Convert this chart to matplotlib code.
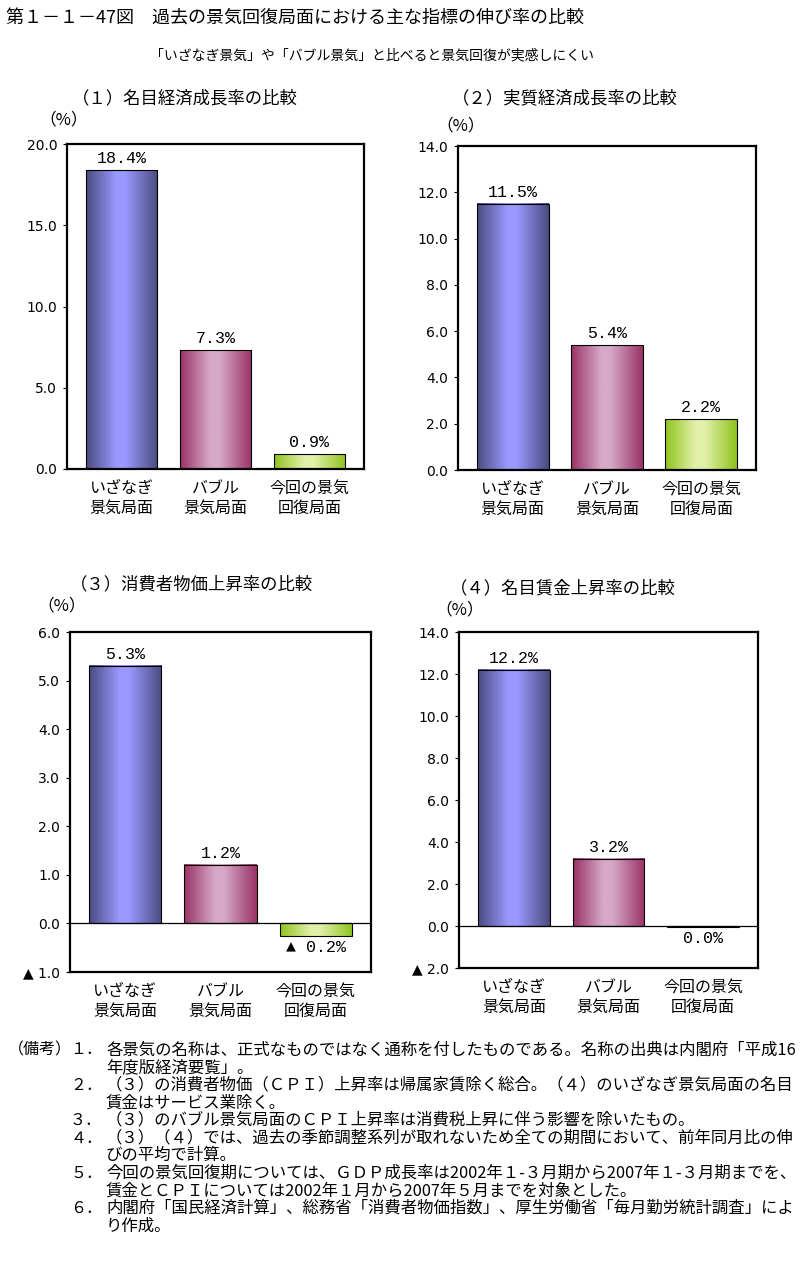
import numpy as np
import matplotlib
matplotlib.use('Agg')
import matplotlib.pyplot as plt
from matplotlib.colors import LinearSegmentedColormap

plt.rcParams['font.family'] = ['Noto Sans CJK JP', 'DejaVu Sans']

W, H = 806, 1272

# データ
categories = ['いざなぎ\n景気局面', 'バブル\n景気局面', '今回の景気\n回復局面']
nominal_gdp = [18.4, 7.3, 0.9]
real_gdp = [11.5, 5.4, 2.2]
cpi = [5.3, 1.2, -0.25]
wage = [12.2, 3.2, -0.03]

panel_titles = ['（１）名目経済成長率の比較', '（２）実質経済成長率の比較',
                '（３）消費者物価上昇率の比較', '（４）名目賃金上昇率の比較']
ylims = [(0, 20), (0, 14), (-1, 6), (-2, 14)]
ysteps = [5, 2, 1, 2]

title = '第１－１－47図　過去の景気回復局面における主な指標の伸び率の比較'
subtitle = '「いざなぎ景気」や「バブル景気」と比べると景気回復が実感しにくい'
notes = [
    ('（備考）', '１．', '各景気の名称は、正式なものではなく通称を付したものである。名称の出典は内閣府「平成16'),
    ('', '', '年度版経済要覧」。'),
    ('', '２．', '（３）の消費者物価（ＣＰＩ）上昇率は帰属家賃除く総合。（４）のいざなぎ景気局面の名目'),
    ('', '', '賃金はサービス業除く。'),
    ('', '３．', '（３）のバブル景気局面のＣＰＩ上昇率は消費税上昇に伴う影響を除いたもの。'),
    ('', '４．', '（３）（４）では、過去の季節調整系列が取れないため全ての期間において、前年同月比の伸'),
    ('', '', 'びの平均で計算。'),
    ('', '５．', '今回の景気回復期については、ＧＤＰ成長率は2002年１-３月期から2007年１-３月期までを、'),
    ('', '', '賃金とＣＰＩについては2002年１月から2007年５月までを対象とした。'),
    ('', '６．', '内閣府「国民経済計算」、総務省「消費者物価指数」、厚生労働省「毎月勤労統計調査」によ'),
    ('', '', 'り作成。'),
]

# 棒の色（端：暗い、中央：明るい）
bar_colors = [('#4b4b80', '#9999ff'), ('#993366', '#d6a9c6'), ('#8fc31f', '#e2f0a8')]


def px(x, y):
    return x / W, 1 - y / H


def fmt_value(v):
    if round(v, 1) == 0:
        return '0.0%'
    if v < 0:
        return f'▲ {abs(v):.1f}%'
    return f'{v:.1f}%'


def fmt_tick(v):
    if v < 0:
        return f'▲ {abs(v):.1f}'
    return f'{v:.1f}'


def draw_panel(box, values, ylim, step):
    l, t, r, b = box
    ax = fig.add_axes([l / W, 1 - b / H, (r - l) / W, (b - t) / H])
    x = np.arange(len(values))
    bars = ax.bar(x, values, width=0.76, facecolor='none', edgecolor='black',
                  linewidth=0.8, zorder=3)
    grad = np.linspace(0, 1, 200).reshape(1, -1)
    for bar, (dark, light) in zip(bars, bar_colors):
        cmap = LinearSegmentedColormap.from_list(
            'g', [(0, dark), (0.42, light), (0.55, light), (1, dark)])
        x0, y0 = bar.get_x(), bar.get_y()
        x1, y1 = x0 + bar.get_width(), y0 + bar.get_height()
        ax.imshow(grad, extent=(x0, x1, min(y0, y1), max(y0, y1)), aspect='auto',
                  cmap=cmap, zorder=2, interpolation='bilinear')
    span = ylim[1] - ylim[0]
    vfont = ['Liberation Mono', 'Noto Sans CJK JP']
    for xi, v in zip(x, values):
        if v >= 0:
            ax.text(xi, v + span * 0.012, fmt_value(v), ha='center', va='bottom',
                    fontsize=12, family=vfont)
        else:
            ax.text(xi, v - span * 0.012, fmt_value(v), ha='center', va='top',
                    fontsize=12, family=vfont)
    if ylim[0] < 0:
        ax.axhline(0, color='black', linewidth=0.9, zorder=4)
    ax.set_xlim(-0.58, 2.58)
    ax.set_ylim(*ylim)
    ticks = np.arange(ylim[0], ylim[1] + 0.001, step)
    ax.set_yticks(ticks)
    ax.set_yticklabels([fmt_tick(v) for v in ticks], fontsize=10,
                       family=['DejaVu Sans', 'Noto Sans CJK JP'])
    ax.tick_params(axis='y', length=3, width=0.8, pad=4)
    ax.set_xticks(x)
    ax.set_xticklabels(categories, fontsize=11.5, linespacing=1.2)
    ax.tick_params(axis='x', length=0, pad=8)
    for s in ax.spines.values():
        s.set_linewidth(1.6)
    return ax


fig = plt.figure(figsize=(W / 100, H / 100), dpi=100)

fig.text(*px(6, 19), title, fontsize=13, ha='left', va='center')
fig.text(*px(372, 55), subtitle, fontsize=10, ha='center', va='center')

boxes = [(67, 144, 364, 469), (458, 146, 756, 470), (70, 632, 371, 972), (459, 632, 758, 968)]
all_values = [nominal_gdp, real_gdp, cpi, wage]
title_pos = [(72, 98), (452, 98), (70, 584), (450, 588)]
pct_pos = [(64, 120), (461, 126), (62, 606), (460, 610)]

for box, vals, yl, st, tt, tp, pp in zip(boxes, all_values, ylims, ysteps,
                                         panel_titles, title_pos, pct_pos):
    draw_panel(box, vals, yl, st)
    fig.text(*px(*tp), tt, fontsize=12.5, ha='left', va='center')
    fig.text(*px(*pp), '（%）', fontsize=12, ha='center', va='center')

y = 1050
for head, num, body in notes:
    if head:
        fig.text(*px(8, y), head, fontsize=11.5, ha='left', va='center')
    if num:
        fig.text(*px(70, y), num, fontsize=11.5, ha='left', va='center')
    fig.text(*px(106, y), body, fontsize=11.8, ha='left', va='center')
    y += 17.6

fig.savefig('out.png', dpi=100)
